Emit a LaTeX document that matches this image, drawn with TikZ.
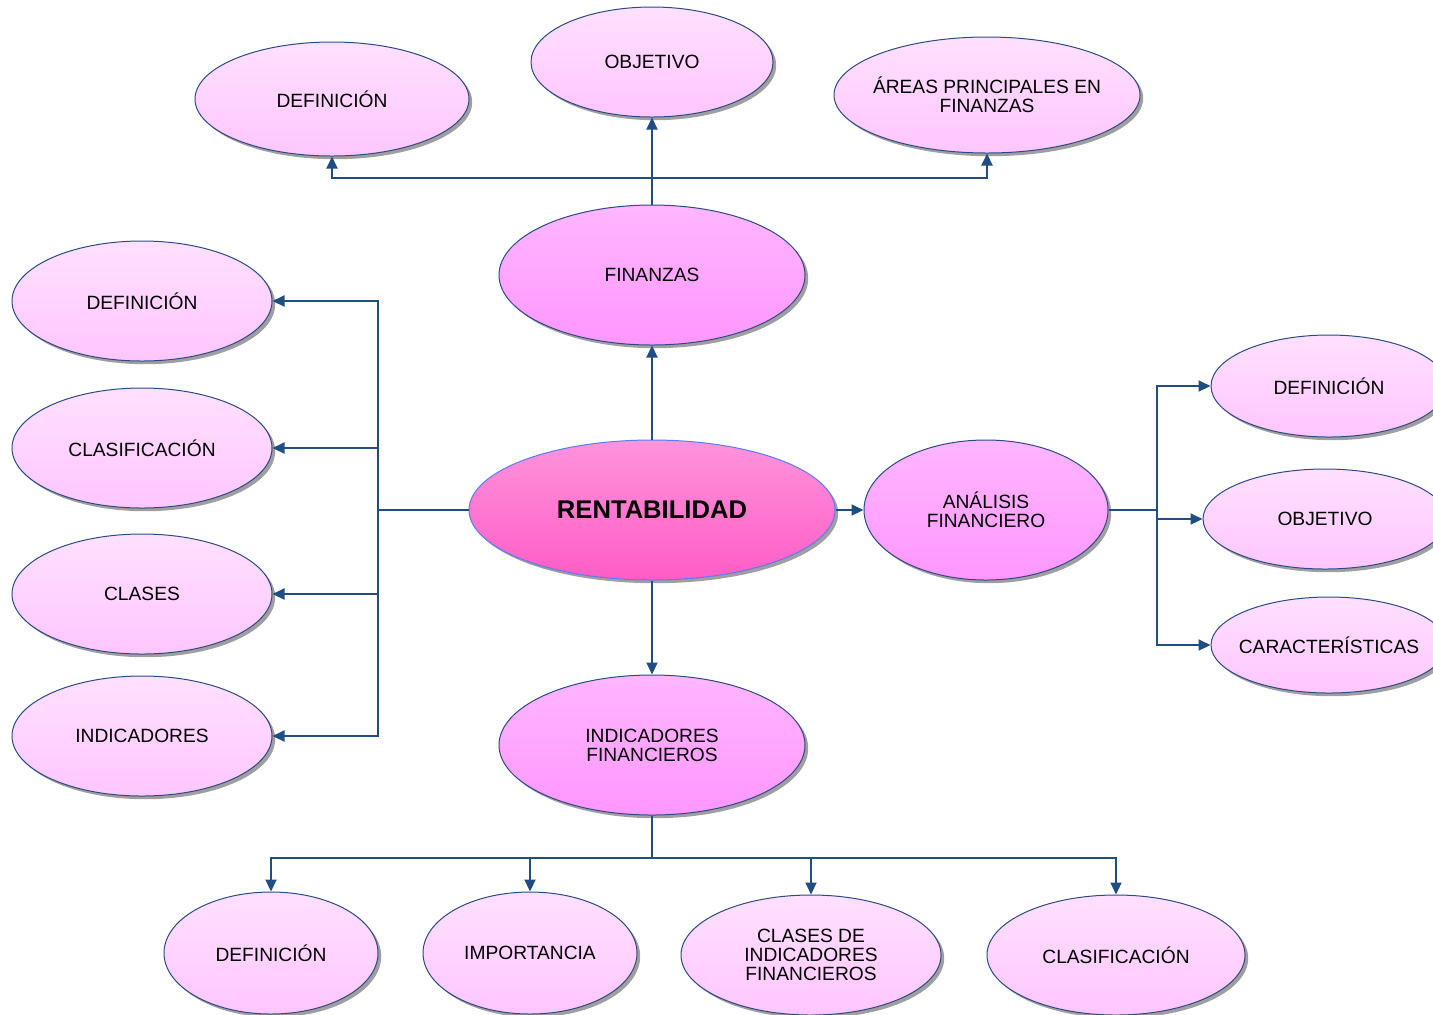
\documentclass[tikz,border=0pt]{standalone}
\usepackage{fontspec}
\setmainfont{Liberation Sans}
\usetikzlibrary{arrows.meta, shapes.geometric, shadows}

\definecolor{linkblue}{HTML}{1F4E85}
\definecolor{rimblue}{HTML}{2C4A86}
\definecolor{coreblue}{HTML}{5A7CF0}
\definecolor{leaftop}{HTML}{FFE0FF}
\definecolor{leafbot}{HTML}{FFC6FF}
\definecolor{midtop}{HTML}{FFB6FF}
\definecolor{midbot}{HTML}{FF96FF}
\definecolor{coretop}{HTML}{FF94DC}
\definecolor{corebot}{HTML}{FF5CC6}

\begin{document}
\begin{tikzpicture}[
        x=0.5pt,
        y=-0.5pt,
        node-base/.style={
            ellipse,
            draw=rimblue,
            line width=0.5pt,
            inner sep=0pt,
            align=center,
            font=\fontsize{9.6}{9.6}\selectfont,
            drop shadow={shadow xshift=1.6pt, shadow yshift=-1.6pt, fill=gray!75, opacity=1},
        },
        node-leaf/.style={
            node-base,
            top color=leaftop,
            bottom color=leafbot,
        },
        node-mid/.style={
            node-base,
            top color=midtop,
            bottom color=midbot,
        },
        node-core/.style={
            node-base,
            draw=coreblue,
            top color=coretop,
            bottom color=corebot,
            font=\fontsize{12.8}{12.8}\selectfont\bfseries,
        },
        link/.style={
            draw=linkblue,
            line width=1pt,
        },
        link-arrow/.style={
            link,
            -{Triangle[length=6pt, width=5.5pt]},
        },
    ]
    \useasboundingbox (0,0) rectangle (1433,1014);

    % Centre and main branches.
    \node[node-core, minimum width=183pt, minimum height=70pt] (rent) at (652,510) {RENTABILIDAD};
    \node[node-mid, minimum width=153pt, minimum height=70pt] (fin) at (652,275) {FINANZAS};
    \node[node-mid, minimum width=122pt, minimum height=70pt] (ana) at (986,510) {ANÁLISIS\\FINANCIERO};
    \node[node-mid, minimum width=153pt, minimum height=70pt] (ind) at (652,745) {INDICADORES\\FINANCIEROS};

    % Top row.
    \node[node-leaf, minimum width=137pt, minimum height=57pt] (tdef) at (332,99) {DEFINICIÓN};
    \node[node-leaf, minimum width=121pt, minimum height=55pt] (tobj) at (652,62) {OBJETIVO};
    \node[node-leaf, minimum width=153pt, minimum height=58pt, inner xsep=-12pt] (tarea) at (987,95) {ÁREAS PRINCIPALES EN\\FINANZAS};

    % Left column.
    \foreach \n/\y/\txt in {ldef/301/DEFINICIÓN, lcla/448/CLASIFICACIÓN, lcls/594/CLASES, lind/736/INDICADORES}
    \node[node-leaf, minimum width=130pt, minimum height=60pt] (\n) at (142,\y) {\txt};

    % Right column.
    \node[node-leaf, minimum width=118pt, minimum height=51pt] (rdef) at (1329,386) {DEFINICIÓN};
    \node[node-leaf, minimum width=122pt, minimum height=50pt] (robj) at (1325,519) {OBJETIVO};
    \node[node-leaf, minimum width=118pt, minimum height=48pt, inner xsep=-10pt] (rcar) at (1329,645) {CARACTERÍSTICAS};

    % Bottom row.
    \node[node-leaf, minimum width=107pt, minimum height=61pt] (bdef) at (271,953) {DEFINICIÓN};
    \node[node-leaf, minimum width=107pt, minimum height=61pt] (bimp) at (530,953) {IMPORTANCIA};
    \node[node-leaf, minimum width=130pt, minimum height=60pt] (bcls) at (811,955) {CLASES DE\\INDICADORES\\FINANCIEROS};
    \node[node-leaf, minimum width=129pt, minimum height=60pt] (bcla) at (1116,955) {CLASIFICACIÓN};

    % Bus points.
    \coordinate (top-bus) at (652,178);
    \coordinate (left-bus) at (378,510);
    \coordinate (right-bus) at (1157,510);
    \coordinate (bot-bus) at (652,858);

    % Main links.
    \draw[link-arrow] (rent) -- (fin);
    \draw[link-arrow] (rent) -- (ana);
    \draw[link-arrow] (rent) -- (ind);

    % Top branch.
    \draw[link] (fin.north) -- (top-bus);
    \draw[link-arrow] (top-bus) -- (tobj.south);
    \draw[link-arrow] (top-bus) -| (tdef.south);
    \draw[link-arrow] (top-bus) -| (tarea.south);

    % Left branch.
    \draw[link] (rent.west) -- (left-bus);
    \foreach \n in {ldef, lcla, lcls, lind}
    \draw[link-arrow] (left-bus) |- (\n.east);

    % Right branch.
    \draw[link] (ana.east) -- (right-bus);
    \foreach \n in {rdef, robj, rcar}
    \draw[link-arrow] (right-bus) |- (\n.west);

    % Bottom branch.
    \draw[link] (ind.south) -- (bot-bus);
    \foreach \n in {bdef, bimp, bcls, bcla}
    \draw[link-arrow] (bot-bus) -| (\n.north);
\end{tikzpicture}
\end{document}
